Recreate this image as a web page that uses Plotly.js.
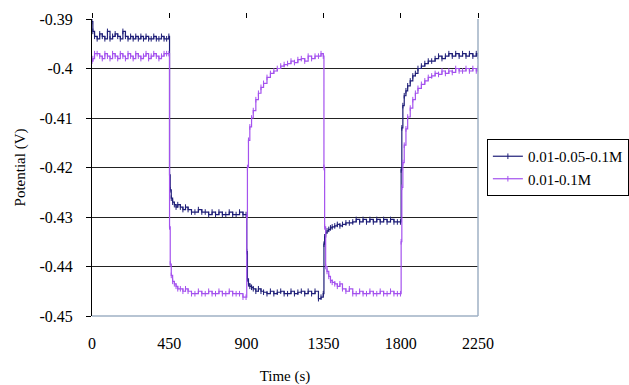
<!DOCTYPE html>
<html>
<head>
<meta charset="utf-8">
<script src="https://cdn.plot.ly/plotly-3.0.1.min.js"></script>
<style>html,body{margin:0;padding:0;background:#fff;overflow:hidden;}#chart{width:629px;height:385px;}</style>
</head>
<body>
<div id="chart"></div>
<script>
// Time (s)
var timeS = [
  0,5,15,30,45,60,75,90,105,120,135,150,165,180,195,210,225,240,255,270,285,300,315,330,345,360,375,390,405,420,435,448,
  452,456,462,470,480,490,500,515,530,545,560,580,600,620,640,660,680,700,720,740,760,780,800,820,840,860,880,898,
  902,906,912,920,930,940,955,970,985,1000,1020,1040,1060,1080,1100,1120,1140,1160,1180,1200,1220,1240,1260,1280,1300,1320,1335,1348,
  1352,1356,1362,1370,1380,1390,1400,1415,1430,1445,1460,1480,1500,1520,1540,1560,1580,1600,1620,1640,1660,1680,1700,1720,1740,1760,1780,1798,
  1802,1806,1812,1820,1830,1840,1855,1870,1885,1900,1920,1940,1960,1980,2000,2020,2040,2060,2080,2100,2120,2140,2160,2180,2200,2220,2240,2250
];
// Series 0.01-0.05-0.1M
var seriesA = [
  -0.3905,-0.3925,-0.3935,-0.394,-0.393,-0.3935,-0.394,-0.3925,-0.394,-0.3935,-0.393,-0.3935,-0.394,-0.3925,-0.3935,-0.394,-0.3935,-0.394,-0.3935,-0.394,-0.3935,-0.394,-0.3935,-0.394,-0.394,-0.3935,-0.394,-0.394,-0.3935,-0.394,-0.394,-0.3935,
  -0.4215,-0.4245,-0.4262,-0.427,-0.4275,-0.428,-0.4275,-0.428,-0.4285,-0.428,-0.4285,-0.429,-0.429,-0.4285,-0.429,-0.429,-0.4295,-0.429,-0.4295,-0.429,-0.4295,-0.4295,-0.429,-0.4295,-0.4295,-0.429,-0.4295,-0.4295,
  -0.437,-0.4425,-0.4435,-0.444,-0.4442,-0.4445,-0.445,-0.4445,-0.445,-0.4452,-0.4455,-0.445,-0.4455,-0.4452,-0.445,-0.4455,-0.4455,-0.445,-0.4455,-0.4452,-0.445,-0.4455,-0.445,-0.4455,-0.445,-0.4465,-0.4462,-0.4455,
  -0.4355,-0.434,-0.4332,-0.4328,-0.4325,-0.4322,-0.432,-0.4318,-0.4315,-0.4318,-0.4315,-0.4312,-0.4312,-0.431,-0.4305,-0.431,-0.4305,-0.431,-0.4305,-0.431,-0.4305,-0.431,-0.4305,-0.431,-0.4305,-0.431,-0.431,-0.431,
  -0.4205,-0.412,-0.4075,-0.4055,-0.4045,-0.4035,-0.4025,-0.4015,-0.401,-0.4,-0.3995,-0.399,-0.3985,-0.3985,-0.398,-0.3975,-0.398,-0.3975,-0.397,-0.3975,-0.397,-0.3975,-0.397,-0.3975,-0.397,-0.3975,-0.397,-0.3975
];
// Series 0.01-0.1M
var seriesB = [
  -0.3985,-0.398,-0.397,-0.397,-0.3975,-0.398,-0.397,-0.3975,-0.398,-0.397,-0.3975,-0.398,-0.397,-0.3975,-0.398,-0.397,-0.3975,-0.398,-0.397,-0.3975,-0.398,-0.3975,-0.397,-0.398,-0.3975,-0.397,-0.3975,-0.398,-0.3975,-0.397,-0.397,-0.397,
  -0.432,-0.4395,-0.4418,-0.443,-0.4435,-0.444,-0.4445,-0.4445,-0.445,-0.4445,-0.445,-0.4455,-0.4455,-0.445,-0.4455,-0.4455,-0.445,-0.4455,-0.4455,-0.445,-0.4455,-0.4455,-0.445,-0.4455,-0.4455,-0.4455,-0.4462,-0.4462,
  -0.43,-0.42,-0.4145,-0.4118,-0.41,-0.4085,-0.4063,-0.405,-0.4038,-0.403,-0.4018,-0.401,-0.4005,-0.4,-0.3995,-0.3992,-0.399,-0.3985,-0.3988,-0.3982,-0.398,-0.3985,-0.3975,-0.398,-0.3975,-0.3975,-0.397,-0.3975,
  -0.42,-0.432,-0.44,-0.441,-0.442,-0.4428,-0.4432,-0.4435,-0.444,-0.4435,-0.4445,-0.445,-0.4445,-0.4455,-0.4455,-0.445,-0.4455,-0.4455,-0.445,-0.4455,-0.4455,-0.445,-0.4455,-0.4455,-0.445,-0.4455,-0.4455,-0.4455,
  -0.435,-0.424,-0.419,-0.4155,-0.4122,-0.4098,-0.408,-0.4063,-0.405,-0.404,-0.4032,-0.4025,-0.4018,-0.4015,-0.401,-0.4012,-0.4005,-0.401,-0.4005,-0.4008,-0.4,-0.4005,-0.4005,-0.4,-0.4005,-0.4,-0.4005,-0.4
];
var seriesNames = ['0.01-0.05-0.1M', '0.01-0.1M'];
var xTicks = [0, 450, 900, 1350, 1800, 2250];
var yTicks = [-0.45, -0.44, -0.43, -0.42, -0.41, -0.4, -0.39];
var yTickText = ['-0.45', '-0.44', '-0.43', '-0.42', '-0.41', '-0.4', '-0.39'];

var serif = 'Liberation Serif, Times New Roman, serif';
var traces = [
  {x: timeS, y: seriesA, name: seriesNames[0], type: 'scatter', mode: 'lines+markers',
   line: {color: '#1f1f78', width: 1.2, shape: 'hv'},
   marker: {symbol: 'line-ns-open', size: 4, color: '#1f1f78', line: {width: 1, color: '#1f1f78'}}},
  {x: timeS, y: seriesB, name: seriesNames[1], type: 'scatter', mode: 'lines+markers',
   line: {color: '#a452ee', width: 1.2, shape: 'hv'},
   marker: {symbol: 'line-ns-open', size: 4, color: '#a452ee', line: {width: 1, color: '#a452ee'}}}
];
var layout = {
  width: 629, height: 385,
  margin: {l: 92, r: 151, t: 19, b: 69, autoexpand: false},
  paper_bgcolor: '#ffffff', plot_bgcolor: '#ffffff',
  font: {family: serif, size: 15, color: '#000'},
  showlegend: true,
  legend: {x: 1.023, xanchor: 'left', y: 0.596, yanchor: 'top',
    bordercolor: '#000', borderwidth: 1, bgcolor: '#fff',
    font: {family: serif, size: 15, color: '#000'}, itemwidth: 30, tracegroupgap: 0},
  xaxis: {range: [0, 2250], tickvals: xTicks, ticktext: xTicks.map(String),
    showgrid: false, zeroline: false, showline: false, ticks: '',
    ticklabelstandoff: 16, tickfont: {family: serif, size: 16},
    title: {text: 'Time (s)', font: {family: serif, size: 15}, standoff: 22}},
  xaxis2: {range: [0, 2250], overlaying: 'x', side: 'top', tickvals: xTicks,
    showticklabels: false, ticks: 'outside', ticklen: 5, tickcolor: '#000',
    showgrid: false, zeroline: false, showline: false},
  yaxis: {range: [-0.45, -0.39], tickvals: yTicks, ticktext: yTickText,
    showgrid: true, gridcolor: '#222', gridwidth: 1, zeroline: false,
    showline: true, linecolor: '#000', linewidth: 1,
    ticks: 'outside', ticklen: 5, tickcolor: '#000', ticklabelstandoff: 10,
    tickfont: {family: serif, size: 16},
    title: {text: 'Potential (V)', font: {family: serif, size: 15}, standoff: 10}},
  shapes: [
    {type: 'line', xref: 'paper', yref: 'paper', x0: 0, x1: 1, y0: 0, y1: 0, layer: 'above', line: {color: '#9fb0c4', width: 1.5}},
    {type: 'line', xref: 'paper', yref: 'paper', x0: 1, x1: 1, y0: 0, y1: 1, layer: 'above', line: {color: '#9fb0c4', width: 1.5}}
  ]
};
traces.push({x: [0, 2250], y: [-0.45, -0.45], xaxis: 'x2', yaxis: 'y', mode: 'lines', line: {width: 0}, hoverinfo: 'skip', showlegend: false});
Plotly.newPlot('chart', traces, layout, {staticPlot: true, displayModeBar: false});
</script>
</body>
</html>
